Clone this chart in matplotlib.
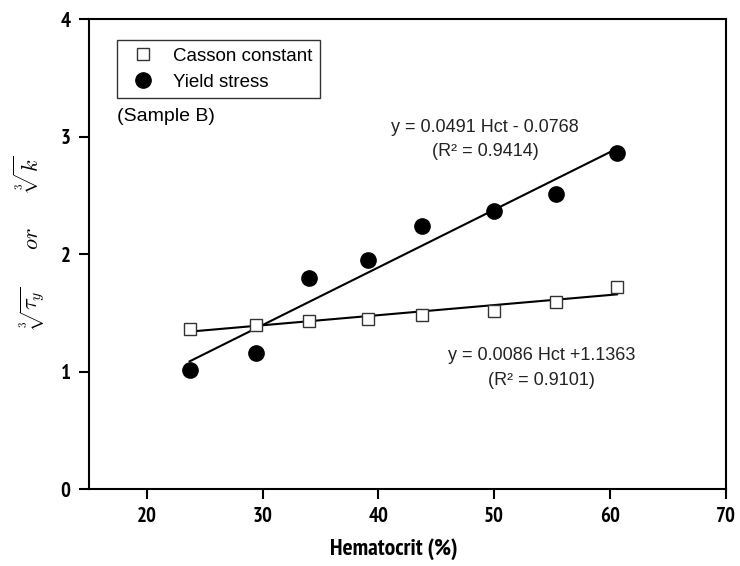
import matplotlib
matplotlib.use("Agg")
import matplotlib.pyplot as plt
import numpy as np
from matplotlib import font_manager
from matplotlib.font_manager import FontProperties

plt.rcParams['mathtext.fontset'] = 'cm'

# look for a condensed bold sans font (Arial Narrow-like)
cond = None
for f in font_manager.fontManager.ttflist:
    fn = f.fname.lower()
    if ('narrow' in fn or 'condensed' in fn) and 'bold' in fn and 'oblique' not in fn and 'italic' not in fn and 'mono' not in fn:
        cond = f.fname
        if 'liberation' in fn or 'narrow' in fn:
            break

# Data
hct = [23.7, 29.4, 34.0, 39.1, 43.8, 50.0, 55.3, 60.6]
casson = [1.36, 1.40, 1.43, 1.45, 1.48, 1.52, 1.59, 1.72]
yield_stress = [1.01, 1.16, 1.80, 1.95, 2.24, 2.37, 2.51, 2.86]
fit_yield = (0.0491, -0.0768)
fit_casson = (0.0086, 1.1363)
xticks = [20, 30, 40, 50, 60, 70]
yticks = [0, 1, 2, 3, 4]

fig = plt.figure(figsize=(7.4, 5.66), dpi=100)
ax = fig.add_axes([0.120, 0.136, 0.861, 0.830])

xs = np.array([hct[0], hct[-1]])
ax.plot(xs, fit_yield[0] * xs + fit_yield[1], color='black', lw=1.5, zorder=2)
ax.plot(xs, fit_casson[0] * xs + fit_casson[1], color='black', lw=1.5, zorder=2)

ax.plot(hct, casson, 's', ms=9, mfc='white', mec='#333333', mew=1.0,
        label='Casson constant', zorder=3)
ax.plot(hct, yield_stress, 'o', ms=11, mfc='black', mec='black',
        label='Yield stress', zorder=3)

ax.set_xlim(15, 70)
ax.set_ylim(0, 4)
ax.set_xticks(xticks)
ax.set_yticks(yticks)

if cond:
    tickfp = FontProperties(fname=cond, size=15)
    labfp = FontProperties(fname=cond, size=17)
else:
    tickfp = FontProperties(family='Liberation Sans', weight='bold', size=13)
    labfp = FontProperties(family='Liberation Sans', weight='bold', size=15)

for lab in ax.get_xticklabels() + ax.get_yticklabels():
    lab.set_fontproperties(tickfp)
ax.tick_params(direction='out', length=7, width=1.5, top=False, right=False, pad=6)
for s in ax.spines.values():
    s.set_linewidth(1.5)

ax.set_xlabel('Hematocrit (%)', fontproperties=labfp, labelpad=12)
ax.xaxis.set_label_coords((394 - 89) / 637, -0.105)
fig.text(29 / 740, 1 - 243 / 566,
         r'$\sqrt[3]{\tau_y}\quad\quad or \quad\quad \sqrt[3]{k}$',
         fontsize=16, rotation=90, ha='center', va='center')

reg = 'Liberation Sans'
leg = ax.legend(loc='upper left', bbox_to_anchor=(0.044, 0.955), frameon=True,
                fancybox=False, edgecolor='black', borderpad=0.4, handletextpad=0.6,
                labelspacing=0.45, prop={'family': reg, 'size': 13.5}, borderaxespad=0)
leg.get_frame().set_linewidth(1.0)

ax.text(17.4, 3.17, '(Sample B)', fontfamily=reg, fontsize=14, va='center', ha='left')
tc = '#222222'
ax.text(49.2, 3.08, 'y = 0.0491 Hct - 0.0768', fontfamily=reg, fontsize=13, ha='center', va='center', color=tc)
ax.text(49.2, 2.87, '(R² = 0.9414)', fontfamily=reg, fontsize=13, ha='center', va='center', color=tc)
ax.text(54.1, 1.14, 'y = 0.0086 Hct +1.1363', fontfamily=reg, fontsize=13, ha='center', va='center', color=tc)
ax.text(54.1, 0.92, '(R² = 0.9101)', fontfamily=reg, fontsize=13, ha='center', va='center', color=tc)

fig.savefig('out.png', dpi=100)
